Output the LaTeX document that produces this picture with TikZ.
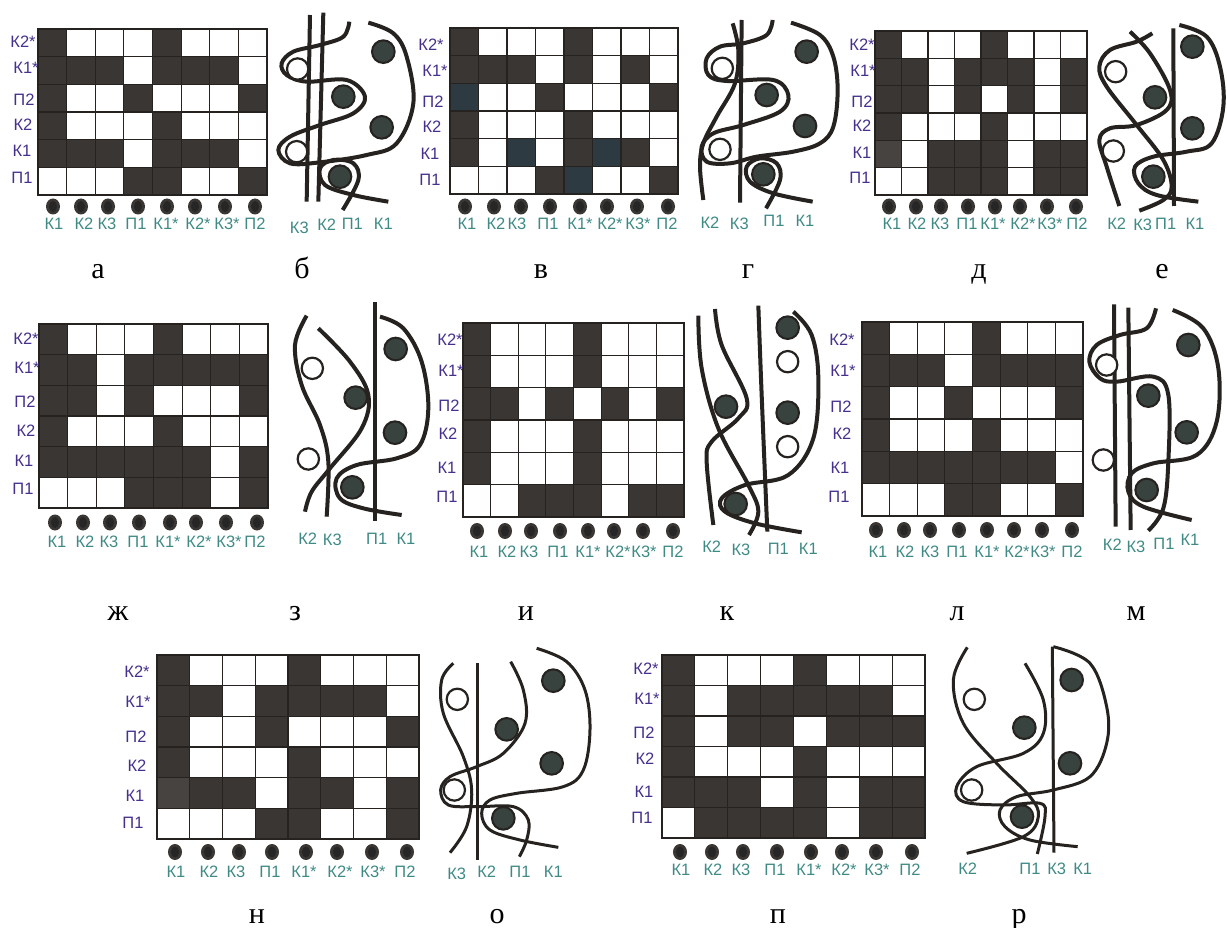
\documentclass[tikz,border=0pt]{standalone}
\usepackage{fontspec}
\setmainfont{Liberation Serif}
\setsansfont{Liberation Sans}
\usepackage{tikz}

\definecolor{cellDark}{HTML}{3A3633}
\definecolor{cellBlue}{HTML}{2E3A41}
\definecolor{cellSoft}{HTML}{474340}
\definecolor{inkDark}{HTML}{25221F}
\definecolor{spotFill}{HTML}{38423F}
\definecolor{rowInk}{HTML}{46308C}
\definecolor{colInk}{HTML}{3F8A85}

\newcommand{\coltext}[1]{\ifcase#1\or К1\or К2\or К3\or П1\or К1*\or К2*\or К3*\or П2\fi}
\newcommand{\rowtext}[1]{\ifcase#1\or К2*\or К1*\or П2\or К2\or К1\or П1\fi}

% x0, y0, x1, y1, rows
\newcommand{\cellgrid}[5]{
    \pgfmathsetmacro{\cw}{(#3-#1)/8}
    \pgfmathsetmacro{\ch}{(#4-#2)/6}
    \foreach \rowvals [count=\r] in {#5} {
        \foreach \v [count=\c] in \rowvals {
            \path[tile\v] ({#1+(\c-1)*\cw},{#2+(\r-1)*\ch}) rectangle ({#1+\c*\cw},{#2+\r*\ch});
        }
    }
}
% name, x/y pairs
\newcommand{\rowlabels}[2]{
    \foreach \lx/\ly [count=\i] in {#2} {
        \node[rowlabel] (#1-row\i) at (\lx,\ly) {\rowtext{\i}};
    }
}
% name, dot y, label y, dot x list, label x list
\newcommand{\collabels}[5]{
    \foreach \lx [count=\i] in {#4} {
        \fill[coldot] (\lx,#2) ellipse[x radius=7,y radius=8];
        \fill[coldotin] (\lx,#2) ellipse[x radius=4,y radius=5.5];
    }
    \foreach \lx [count=\i] in {#5} {
        \node[collabel] (#1-col\i) at (\lx,#3) {\coltext{\i}};
    }
}
% spots, rings
\newcommand{\beads}[2]{
    \foreach \sx/\sy in {#1} { \draw[spot] (\sx,\sy) circle[radius=34]; }
    \foreach \sx/\sy in {#2} { \draw[ring] (\sx,\sy) circle[radius=32]; }
}

\begin{document}
\begin{tikzpicture}[
    x=1pt,
    y=-1pt,
    font=\sffamily,
    tiled/.style={fill=cellDark, draw=inkDark, line width=1.2pt},
    tilew/.style={fill=white, draw=inkDark, line width=1.2pt},
    tileb/.style={fill=cellBlue, draw=inkDark, line width=1.2pt},
    tiles/.style={fill=cellSoft, draw=inkDark, line width=1.2pt},
    rowlabel/.style={text=rowInk, inner sep=0pt, font=\sffamily\fontsize{16.5}{18}\selectfont},
    collabel/.style={text=colInk, inner sep=0pt, font=\sffamily\fontsize{16.5}{18}\selectfont},
    caption/.style={inner sep=0pt, anchor=base, font=\rmfamily\fontsize{30}{32}\selectfont},
    coldot/.style={fill=cellDark},
    coldotin/.style={fill=black!85},
    strand/.style={draw=inkDark, line width=4pt},
    thinstrand/.style={draw=inkDark, line width=3pt},
    spot/.style={fill=spotFill, draw=inkDark, line width=2pt},
    ring/.style={fill=white, draw=inkDark, line width=2.2pt},
    panel/.style={scale=0.33333}
]
    \useasboundingbox (0,0) rectangle (1227,928);

    % top row
    \cellgrid{38}{29}{267}{195}{{d,w,w,w,d,w,w,w},{d,d,d,w,d,d,d,w},{d,w,w,d,w,w,w,d},{d,w,w,w,d,w,w,w},{d,d,d,w,d,d,d,w},{w,w,w,d,d,w,w,d}}
    \rowlabels{a}{23/42,26/68,24/100,23/125,22/151,22/178}
    \collabels{a}{206.5}{224}{53,81,108,138,167,195,225,255}{54,84,107,136,166,198,227,255}

    \begin{scope}[panel]
        \draw[strand] (930,45) -- (920,605);
        \draw[strand] (970,38) -- (955,605);
        \draw[strand] plot[smooth,tension=.6] coordinates {(1105,68) (1180,100) (1220,170) (1240,310) (1190,430) (1100,465) (960,487) (870,490) (835,450) (870,410) (960,375) (1060,340) (1095,290) (1040,240) (920,245) (860,225) (845,190) (880,155) (960,135) (1030,110) (1048,65)};
        \draw[strand] plot[smooth,tension=.6] coordinates {(1028,630) (1075,540) (1060,490) (1000,480) (960,505) (975,555) (1060,585) (1165,605)};
        \beads{1150/155,1030/290,1145/382,1020/530}{893/207,890/455}
        \node[collabel] (b-k3) at (898,682) {К3};
        \node[collabel] (b-k2) at (980,675) {К2};
        \node[collabel] (b-p1) at (1057,672) {П1};
        \node[collabel] (b-k1) at (1150,672) {К1};
    \end{scope}

    \cellgrid{450}{28}{678}{194}{{d,w,w,w,d,w,w,w},{d,d,d,w,d,w,d,w},{b,w,w,d,w,w,w,d},{d,w,w,w,d,w,w,w},{d,w,b,w,d,b,d,w},{w,w,w,d,b,w,w,d}}
    \rowlabels{c}{431/45,435/71,433/102,432/127,430/154,430/180}
    \collabels{c}{206.5}{224}{465,494,521,550,580,607,637,668}{467,496,517,548,580,610,638,667}

    \begin{scope}[shift={(410,0)},panel]
        \draw[strand] (995,60) -- (990,608);
        \draw[strand] plot[smooth,tension=.6] coordinates {(968,70) (985,150) (975,250) (920,350) (880,430) (870,500) (880,600)};
        \draw[strand] plot[smooth,tension=.6] coordinates {(1143,68) (1230,105) (1270,170) (1283,270) (1270,380) (1230,430) (1150,455) (1040,470) (960,490) (890,485) (875,440) (910,400) (1000,375) (1110,335) (1135,285) (1090,240) (950,243) (895,225) (890,175) (930,140) (1000,130) (1070,105) (1088,60)};
        \draw[strand] plot[smooth,tension=.6] coordinates {(1068,625) (1110,540) (1100,490) (1050,475) (1010,500) (1020,545) (1090,580) (1208,605)};
        \beads{1190/155,1070/285,1185/378,1060/523}{937/205,930/448}
        \node[collabel] (d-k2) at (900,668) {К2};
        \node[collabel] (d-k3) at (988,672) {К3};
        \node[collabel] (d-p1) at (1092,662) {П1};
        \node[collabel] (d-k1) at (1185,662) {К1};
    \end{scope}

    \cellgrid{875}{31}{1087}{195}{{d,w,w,w,d,w,w,w},{d,d,w,d,d,d,w,d},{d,d,w,d,w,d,w,d},{d,w,w,w,d,w,w,w},{s,w,d,d,d,w,d,d},{w,w,d,d,d,w,d,d}}
    \rowlabels{e}{862/45,863/71,862/102,862/126,862/153,860/178}
    \collabels{e}{206.5}{224}{889,916,941,968,995,1020,1047,1076}{892,917,940,967,993,1023,1050,1077}

    \begin{scope}[shift={(820,0)},panel]
        \draw[strand] (1060,85) -- (1062,618);
        \draw[strand] plot[smooth,tension=.6] coordinates {(1078,75) (1160,110) (1200,200) (1210,320) (1175,430) (1100,455) (1000,470) (945,500) (955,550) (1010,585) (1135,605)};
        \draw[strand] plot[smooth,tension=.6] coordinates {(997,100) (950,125) (870,150) (838,200) (860,260) (950,375) (1030,480) (1055,560) (1030,600) (958,632)};
        \draw[strand] plot[smooth,tension=.6] coordinates {(930,95) (990,160) (1050,270) (1040,330) (950,375) (870,385) (838,420) (860,500) (898,618)};
        \beads{1117/140,1005/292,1117/385,1000/530}{887/215,880/453}
        \node[collabel] (f-k2) at (890,672) {К2};
        \node[collabel] (f-k3) at (968,675) {К3};
        \node[collabel] (f-p1) at (1037,672) {П1};
        \node[collabel] (f-k1) at (1125,672) {К1};
    \end{scope}

    % middle row
    \cellgrid{39}{324}{268}{508}{{d,w,w,w,d,w,w,w},{d,d,w,d,d,d,d,d},{d,d,w,d,w,w,w,d},{d,w,w,w,d,w,w,w},{d,d,d,d,d,d,w,d},{w,w,w,d,d,d,w,d}}
    \rowlabels{g}{26/339,27/368,25/402,26/431,24/461,23/489}
    \collabels{g}{522.5}{542}{55,83,110,139,170,196,226,257}{57,85,109,138,168,199,229,255}

    \begin{scope}[shift={(0,295)},panel]
        \draw[strand] (1125,22) -- (1125,677);
        \draw[strand] plot[smooth,tension=.6] coordinates {(1140,65) (1210,100) (1265,200) (1285,340) (1260,450) (1190,490) (1070,510) (1010,550) (1020,610) (1090,640) (1205,660)};
        \draw[strand] plot[smooth,tension=.6] coordinates {(920,62) (885,150) (905,270) (960,390) (985,500) (980,665)};
        \draw[strand] plot[smooth,tension=.6] coordinates {(955,100) (1050,200) (1105,300) (1085,400) (990,520) (935,590) (915,650)};
        \beads{1187/162,1067/308,1185/413,1057/577}{937/220,925/492}
        \node[collabel] (h-k2) at (923,730) {К2};
        \node[collabel] (h-k3) at (997,735) {К3};
        \node[collabel] (h-p1) at (1130,730) {П1};
        \node[collabel] (h-k1) at (1218,730) {К1};
    \end{scope}

    \cellgrid{463}{323}{684}{517}{{d,w,w,w,d,w,w,w},{d,w,w,w,d,w,w,w},{d,d,w,d,w,d,w,d},{d,w,w,w,d,w,w,w},{d,w,w,w,d,w,w,w},{w,w,d,d,d,w,d,d}}
    \rowlabels{i}{450/340,451/371,449/406,448/434,447/468,447/497}
    \collabels{i}{531}{552}{477,505,531,560,588,614,643,673}{479,507,529,558,588,618,644,673}

    \begin{scope}[shift={(425,295)},panel]
        \draw[strand] plot[smooth,tension=.6] coordinates {(1000,32) (1010,300) (1027,710)};
        \draw[strand] plot[smooth,tension=.6] coordinates {(1105,50) (1160,120) (1180,250) (1165,430) (1090,540) (960,570) (890,610) (900,650) (990,685) (1130,712)};
        \draw[strand] plot[smooth,tension=.6] coordinates {(820,62) (830,220) (880,400) (970,570) (1000,650) (972,720)};
        \draw[strand] plot[smooth,tension=.6] coordinates {(870,42) (890,150) (965,310) (940,370) (860,440) (845,500) (865,690)};
        \beads{1088/98,903/335,1088/353,932/627}{1088/200,1088/455}
        \node[collabel] (j-k2) at (860,755) {К2};
        \node[collabel] (j-k3) at (948,765) {К3};
        \node[collabel] (j-p1) at (1060,762) {П1};
        \node[collabel] (j-k1) at (1150,762) {К1};
    \end{scope}

    \cellgrid{862}{322}{1083}{516}{{d,w,w,w,d,w,w,w},{d,d,d,w,d,d,d,d},{d,w,w,d,w,w,w,d},{d,w,w,w,d,w,w,w},{d,d,d,d,d,d,d,w},{w,w,w,d,d,w,w,d}}
    \rowlabels{l}{842/340,843/371,841/407,842/434,840/468,839/497}
    \collabels{l}{530}{552}{876,904,930,959,987,1014,1042,1072}{878,905,930,957,987,1017,1043,1072}

    \begin{scope}[shift={(820,295)},panel]
        \draw[strand] (882,28) -- (887,695);
        \draw[strand] (925,38) -- (932,705);
        \draw[strand] plot[smooth,tension=.6] coordinates {(1058,45) (1150,100) (1195,220) (1190,380) (1130,480) (1000,505) (935,535) (925,590) (970,635) (1115,675)};
        \draw[strand] plot[smooth,tension=.6] coordinates {(1008,40) (980,100) (900,120) (830,150) (808,200) (840,250) (890,260) (1000,245) (1045,300) (1045,500) (1030,640) (985,707)};
        \beads{1105/150,985/302,1100/412,980/585}{860/210,850/495}
        \node[collabel] (m-k2) at (877,750) {К2};
        \node[collabel] (m-k3) at (948,755) {К3};
        \node[collabel] (m-p1) at (1032,745) {П1};
        \node[collabel] (m-k1) at (1110,735) {К1};
    \end{scope}

    % bottom row
    \cellgrid{157}{655}{419}{839}{{d,w,w,w,d,w,w,w},{d,d,w,d,d,d,d,w},{d,w,w,d,w,w,w,d},{d,w,w,w,d,w,w,w},{s,d,d,w,d,d,w,d},{w,w,w,d,d,w,w,d}}
    \rowlabels{n}{137/672,138/702,136/737,137/766,135/796,133/823}
    \collabels{n}{852}{872}{175,208,239,272,306,337,372,407}{176,209,236,270,304,340,373,405}

    \begin{scope}[shift={(100,630)},panel]
        \draw[thinstrand] (1133,100) -- (1133,690);
        \draw[thinstrand] plot[smooth,tension=.6] coordinates {(1310,55) (1400,95) (1455,180) (1470,300) (1450,420) (1390,470) (1250,490) (1170,510) (1145,550) (1170,600) (1260,630) (1375,652)};
        \draw[thinstrand] plot[smooth,tension=.6] coordinates {(1060,100) (1025,150) (1030,250) (1090,380) (1115,480) (1100,590) (1050,668)};
        \draw[thinstrand] plot[smooth,tension=.6] coordinates {(1232,95) (1270,180) (1275,280) (1210,370) (1130,410) (1050,440) (1022,480) (1045,525) (1130,530) (1240,530) (1285,570) (1280,630) (1258,680)};
        \beads{1360/152,1220/298,1355/400,1210/565}{1072/208,1063/480}
        \node[collabel] (o-k3) at (1070,730) {К3};
        \node[collabel] (o-k2) at (1160,725) {К2};
        \node[collabel] (o-p1) at (1260,725) {П1};
        \node[collabel] (o-k1) at (1360,725) {К1};
    \end{scope}

    \cellgrid{662}{655}{925}{838}{{d,w,w,w,d,w,w,w},{d,w,d,d,d,d,d,w},{d,w,d,d,w,d,d,d},{d,w,w,w,d,w,w,w},{d,d,d,w,d,w,d,d},{w,d,d,d,d,w,d,d}}
    \rowlabels{p}{646/669,647/699,644/733,645/759,644/792,642/818}
    \collabels{p}{852}{870}{680,712,743,777,811,842,876,912}{681,713,741,775,809,844,877,910}

    \begin{scope}[shift={(610,630)},panel]
        \draw[thinstrand] (1327,50) -- (1332,668);
        \draw[thinstrand] plot[smooth,tension=.6] coordinates {(1330,50) (1440,100) (1490,230) (1490,340) (1440,440) (1330,480) (1220,500) (1170,540) (1185,590) (1260,630) (1403,650)};
        \draw[thinstrand] plot[smooth,tension=.6] coordinates {(1072,52) (1030,150) (1060,280) (1160,400) (1260,500) (1285,560) (1240,620) (1070,670)};
        \draw[thinstrand] plot[smooth,tension=.6] coordinates {(1245,100) (1300,210) (1300,310) (1240,370) (1100,410) (1040,470) (1060,515) (1180,525) (1290,520) (1305,560) (1282,672)};
        \beads{1385/150,1243/293,1380/400,1236/560}{1093/208,1085/480}
        \node[collabel] (r-k2) at (1073,715) {К2};
        \node[collabel] (r-p1) at (1260,715) {П1};
        \node[collabel] (r-k3) at (1340,715) {К3};
        \node[collabel] (r-k1) at (1418,715) {К1};
    \end{scope}

    % captions
    \node[caption] (cap1) at (98,279) {а};
    \node[caption] (cap2) at (302,279) {б};
    \node[caption] (cap3) at (541,279) {в};
    \node[caption] (cap4) at (748,279) {г};
    \node[caption] (cap5) at (979,279) {д};
    \node[caption] (cap6) at (1162,279) {е};
    \node[caption] (cap7) at (118,620) {ж};
    \node[caption] (cap8) at (295,620) {з};
    \node[caption] (cap9) at (526,620) {и};
    \node[caption] (cap10) at (727,620) {к};
    \node[caption] (cap11) at (957,620) {л};
    \node[caption] (cap12) at (1136,620) {м};
    \node[caption] (cap13) at (257,923) {н};
    \node[caption] (cap14) at (497,923) {о};
    \node[caption] (cap15) at (778,923) {п};
    \node[caption] (cap16) at (1019,923) {р};
\end{tikzpicture}
\end{document}
